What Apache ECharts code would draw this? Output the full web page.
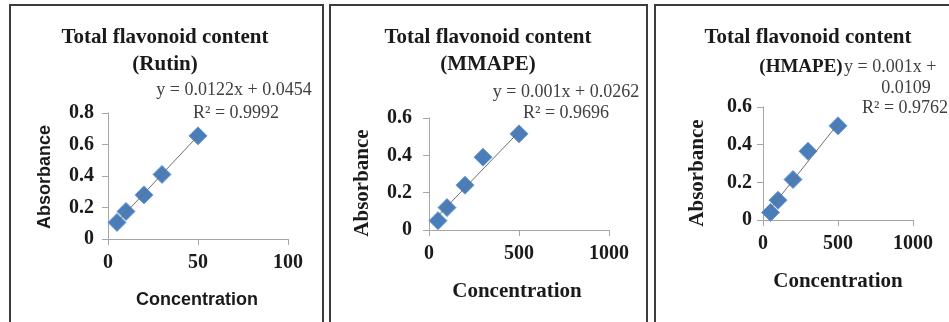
<!DOCTYPE html>
<html>
<head>
<meta charset="utf-8">
<script src="https://cdn.jsdelivr.net/npm/echarts@6/dist/echarts.min.js"></script>
<style>
html,body{margin:0;padding:0;background:#fff;}
#chart{width:949px;height:322px;}
</style>
</head>
<body>
<div id="chart"></div>
<script>
// measured points (concentration, absorbance)
var rutinX = [5, 10, 20, 30, 50];
var rutinY = [0.105, 0.175, 0.28, 0.41, 0.655];
var mmapeX = [50, 100, 200, 300, 500];
var mmapeY = [0.05, 0.12, 0.24, 0.39, 0.515];
var hmapeX = [50, 100, 200, 300, 500];
var hmapeY = [0.04, 0.105, 0.215, 0.365, 0.50];
// trendline end points
var rutinTrend = [[5, 0.1064], [50, 0.6554]];
var mmapeTrend = [[50, 0.0762], [500, 0.5262]];
var hmapeTrend = [[50, 0.0609], [500, 0.5109]];
// axis ranges [min, max, interval]
var rutinXTicks = [0, 100, 50];
var rutinYTicks = [0, 0.8, 0.2];
var extractXTicks = [0, 1000, 500];
var extractYTicks = [0, 0.6, 0.2];
var titles = ['(Rutin)', '(MMAPE)', '(HMAPE)'];

function pairs(xs, ys) {
    var out = [];
    for (var i = 0; i < xs.length; i++) out.push([xs[i], ys[i]]);
    return out;
}

var axisColor = '#a6a6a6';
var labelStyle = {fontFamily: 'Liberation Serif', fontWeight: 'bold', fontSize: 20, color: '#1a1a1a'};

function xAxisOf(idx, t) {
    return {
        gridIndex: idx, type: 'value', min: t[0], max: t[1], interval: t[2],
        splitLine: {show: false},
        axisLine: {lineStyle: {color: axisColor}},
        axisTick: {show: true, length: 6, lineStyle: {color: axisColor}},
        axisLabel: Object.assign({margin: 14, formatter: function (v) { return String(v); }}, labelStyle)
    };
}
function yAxisOf(idx, t, m) {
    return {
        gridIndex: idx, type: 'value', min: t[0], max: t[1], interval: t[2],
        splitLine: {show: false},
        axisLine: {show: true, lineStyle: {color: axisColor}},
        axisTick: {show: true, length: 6, lineStyle: {color: axisColor}},
        axisLabel: Object.assign({margin: m}, labelStyle)
    };
}
function scatterOf(idx, data) {
    return {
        type: 'scatter', xAxisIndex: idx, yAxisIndex: idx, data: data,
        symbol: 'diamond', symbolSize: [18, 18],
        itemStyle: {color: '#4a7ebb', borderColor: '#6d9ad3', borderWidth: 1, opacity: 1},
        z: 2
    };
}
function trendOf(idx, data) {
    return {
        type: 'line', xAxisIndex: idx, yAxisIndex: idx, data: data,
        symbol: 'none', lineStyle: {color: '#6e6e6e', width: 1}, z: 3
    };
}
function txt(x, y, s, font, align, rot, color) {
    return {
        type: 'text', x: x, y: y, rotation: rot || 0, z: 10,
        style: {text: s, font: font, fill: color || '#1a1a1a',
            textAlign: align || 'center', textVerticalAlign: 'middle',
            align: align || 'center', verticalAlign: 'middle'}
    };
}
function box(x1, x2) {
    return {type: 'rect', shape: {x: x1, y: 5, width: x2 - x1, height: 330},
        style: {fill: 'none', stroke: '#3c3c3c', lineWidth: 2}, z: 1};
}

var titleFont = 'bold 21px "Liberation Serif"';
var eqFont = '18px "Liberation Serif"';
var eqColor = '#404040';

var chart = echarts.init(document.getElementById('chart'));
chart.setOption({
    backgroundColor: '#fff',
    animation: false,
    grid: [
        {left: 108, top: 113, width: 180, height: 126},
        {left: 429, top: 118, width: 180, height: 112},
        {left: 763, top: 107, width: 150, height: 113}
    ],
    xAxis: [xAxisOf(0, rutinXTicks), xAxisOf(1, extractXTicks), xAxisOf(2, extractXTicks)],
    yAxis: [yAxisOf(0, rutinYTicks, 14), yAxisOf(1, extractYTicks, 17), yAxisOf(2, extractYTicks, 11)],
    series: [
        scatterOf(0, pairs(rutinX, rutinY)), trendOf(0, rutinTrend),
        scatterOf(1, pairs(mmapeX, mmapeY)), trendOf(1, mmapeTrend),
        scatterOf(2, pairs(hmapeX, hmapeY)), trendOf(2, hmapeTrend)
    ],
    graphic: [
        box(10, 323), box(330, 647), box(655, 962),
        // titles
        txt(165, 38, 'Total flavonoid content', titleFont),
        txt(165, 65, titles[0], titleFont),
        txt(488, 38, 'Total flavonoid content', titleFont),
        txt(488, 65, titles[1], titleFont),
        txt(808, 38, 'Total flavonoid content', titleFont),
        txt(801, 67, titles[2], 'bold 19px "Liberation Serif"'),
        // equations
        txt(234, 90, 'y = 0.0122x + 0.0454', eqFont, 'center', 0, eqColor),
        txt(236, 113, 'R² = 0.9992', eqFont, 'center', 0, eqColor),
        txt(566, 92, 'y = 0.001x + 0.0262', eqFont, 'center', 0, eqColor),
        txt(566, 113, 'R² = 0.9696', eqFont, 'center', 0, eqColor),
        txt(844, 67, 'y = 0.001x +', eqFont, 'left', 0, eqColor),
        txt(906, 88, '0.0109', eqFont, 'center', 0, eqColor),
        txt(862, 108, 'R² = 0.9762', eqFont, 'left', 0, eqColor),
        // axis names
        txt(45, 177, 'Absorbance', 'bold 18px "Liberation Sans"', 'center', Math.PI / 2),
        txt(197, 300, 'Concentration', 'bold 18px "Liberation Sans"'),
        txt(363, 183, 'Absorbance', 'bold 21px "Liberation Serif"', 'center', Math.PI / 2),
        txt(517, 292, 'Concentration', 'bold 21px "Liberation Serif"'),
        txt(698, 173, 'Absorbance', 'bold 21px "Liberation Serif"', 'center', Math.PI / 2),
        txt(838, 282, 'Concentration', 'bold 21px "Liberation Serif"')
    ]
});
</script>
</body>
</html>
